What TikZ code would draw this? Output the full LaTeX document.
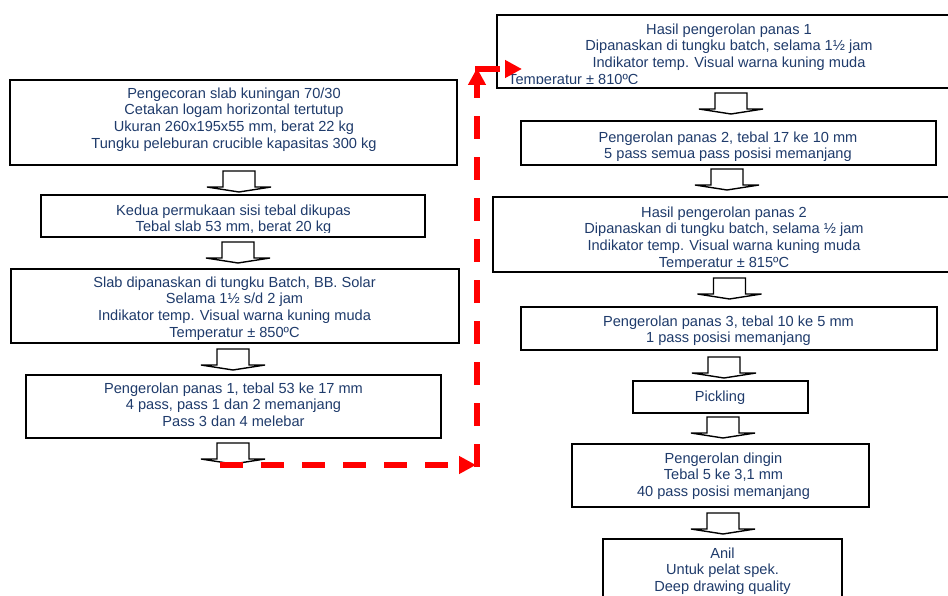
\documentclass[tikz,border=0pt]{standalone}
\usepackage{fontspec}
\setmainfont{Liberation Sans}
\usetikzlibrary{arrows.meta}
\definecolor{txtblue}{RGB}{31,59,107}
\tikzset{
  box/.style={draw=black, line width=1.9pt, fill=none, inner sep=0pt},
  txt/.style={text=txtblue, align=center, inner sep=0pt, font=\fontsize{14.6}{16.8}\selectfont},
  blockarr/.pic={\draw[line width=1.4pt, fill=white, line join=miter]
     (-16,0) -- (16,0) -- (16,16) -- (32,16) -- (0,21) -- (-32,16) -- (-16,16) -- cycle;},
  reddash/.style={draw=red, line width=5.5pt, dash pattern=on 23pt off 18pt,
     -{Triangle[length=17pt,width=17pt]}}
}
% #1 name, #2 x1, #3 y1, #4 x2, #5 y2, #6 text cx, #7 first baseline, #8 text
\newcommand\flowbox[8]{%
  \begin{scope}
    \clip (#2,#3) rectangle (#4,#5-4);
    \node[txt, anchor=north] (#1t) at (#6,#7-10.6) {#8};
  \end{scope}
  \node[box, minimum width={#4-#2}, minimum height={#5-#3}] (#1) at ({(#2+#4)/2},{(#3+#5)/2}) {};
}
\begin{document}
\begin{tikzpicture}[x=1pt,y=-1pt]
\useasboundingbox (0,0) rectangle (948,596);
\clip (0,0) rectangle (948,596);
\fill[white] (0,0) rectangle (948,596);

% left column
\flowbox{L1}{10}{80}{457}{165}{234}{98}{Pengecoran slab kuningan 70/30\\Cetakan logam horizontal tertutup\\Ukuran 260x195x55 mm, berat 22 kg\\Tungku peleburan crucible kapasitas 300 kg}
\flowbox{L2}{41}{195}{425}{237}{233.5}{215}{Kedua permukaan sisi tebal dikupas\\Tebal slab 53 mm, berat 20 kg}
\flowbox{L3}{11}{269}{459}{343}{234.5}{287}{Slab dipanaskan di tungku Batch, BB. Solar\\Selama 1½ s/d 2 jam\\Indikator temp. Visual warna kuning muda\\Temperatur ± 850ºC}
\flowbox{L4}{26}{375}{441}{438}{233.5}{393}{Pengerolan panas 1, tebal 53 ke 17 mm\\4 pass, pass 1 dan 2 memanjang\\Pass 3 dan 4 melebar}

% right column
\begin{scope}
  \clip (497,15) rectangle (960,84);
  \node[txt, anchor=north] (R1t) at (729,34-10.6) {Hasil pengerolan panas 1\\Dipanaskan di tungku batch, selama 1½ jam\\Indikator temp. Visual warna kuning muda};
  \node[txt, anchor=base west] (R1u) at (508,84.4) {Temperatur ± 810ºC};
\end{scope}
\node[box, minimum width=463, minimum height=73] (R1) at (728.5,51.5) {};
\flowbox{R2}{521}{121}{936}{165}{728}{142}{Pengerolan panas 2, tebal 17 ke 10 mm\\5 pass semua pass posisi memanjang}
\flowbox{R3}{493}{197}{960}{272}{724}{217}{Hasil pengerolan panas 2\\Dipanaskan di tungku batch, selama ½ jam\\Indikator temp. Visual warna kuning muda\\Temperatur ± 815ºC}
\flowbox{R4}{521}{307}{937}{350}{728.5}{326}{Pengerolan panas 3, tebal 10 ke 5 mm\\1 pass posisi memanjang}
\flowbox{P}{633}{381}{808}{413}{720}{401}{Pickling}
\flowbox{C}{572}{444}{869}{507}{723.5}{463}{Pengerolan dingin\\Tebal 5 ke 3,1 mm\\40 pass posisi memanjang}
\flowbox{A}{603}{539}{842}{620}{722.5}{558}{Anil\\Untuk pelat spek.\\Deep drawing quality}

% block arrows
\pic (a1) at (239,171) {blockarr};
\pic (a2) at (238,242) {blockarr};
\pic (a3) at (233,349) {blockarr};
\pic (a4) at (233,443) {blockarr};
\pic (b1) at (731,93) {blockarr};
\pic (b2) at (727,169) {blockarr};
\pic (b3) at (729.5,278) {blockarr};
\pic (b4) at (724,357) {blockarr};
\pic (b5) at (723,417) {blockarr};
\pic (b6) at (723,513) {blockarr};

% red dashed route
\coordinate (r0) at (220,465);
\coordinate (r1) at (476,465);
\coordinate (r1b) at (477,467);
\coordinate (r2) at (477,68);
\coordinate (r2b) at (475,69);
\coordinate (r3) at (522,69);
\draw[reddash] (r0) -- (r1);
\draw[reddash] (r1b) -- (r2);
\draw[reddash, dash pattern=on 25pt off 5pt] (r2b) -- (r3);
\end{tikzpicture}
\end{document}
